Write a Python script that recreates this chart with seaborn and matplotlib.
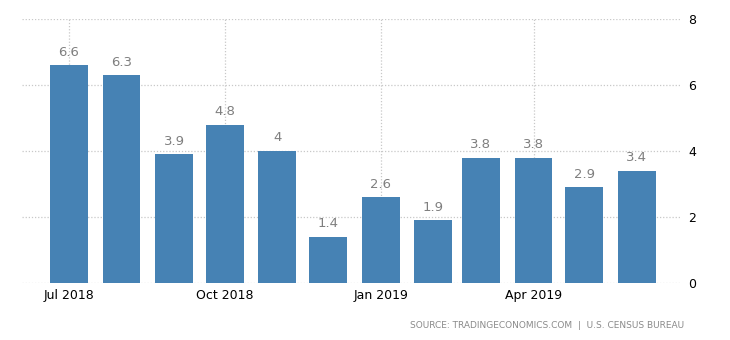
import matplotlib
matplotlib.use("Agg")
import matplotlib.pyplot as plt
import matplotlib.dates as mdates
import seaborn as sns
import pandas as pd
import numpy as np

months = ["2018-07-01", "2018-08-01", "2018-09-01", "2018-10-01", "2018-11-01",
          "2018-12-01", "2019-01-01", "2019-02-01", "2019-03-01", "2019-04-01",
          "2019-05-01", "2019-06-01"]
values = [6.6, 6.3, 3.9, 4.8, 4.0, 1.4, 2.6, 1.9, 3.8, 3.8, 2.9, 3.4]
tick_months = ["2018-07-01", "2018-10-01", "2019-01-01", "2019-04-01"]
tick_labels = ["Jul 2018", "Oct 2018", "Jan 2019", "Apr 2019"]
y_ticks = [0, 2, 4, 6, 8]
source_text = "SOURCE: TRADINGECONOMICS.COM  |  U.S. CENSUS BUREAU"

sns.set_style("white")
plt.rcParams["font.family"] = ["DejaVu Sans"]

day_num = mdates.date2num(pd.to_datetime(months))
df = pd.DataFrame({"day": day_num, "value": values})

fig = plt.figure(figsize=(7.3, 3.4), dpi=100)
ax = fig.add_axes([0.0301, 0.1676, 0.9014, 0.7764])

sns.barplot(data=df, x="day", y="value", native_scale=True, width=0.8,
            color="#4682b4", saturation=1, linewidth=0, edgecolor="none",
            ax=ax, zorder=3)

for d, v in zip(day_num, values):
    ax.text(d, v + 0.2, f"{v:g}", ha="center", va="bottom",
            fontsize=9.5, color="#7f7f7f", zorder=4)

ax.set_xlim(day_num[0] - 27.7, day_num[-1] + 25.4)
ax.set_ylim(0, 8)

ax.set_xticks(mdates.date2num(pd.to_datetime(tick_months)))
ax.set_xticklabels(tick_labels, fontsize=9, color="black")
ax.set_yticks(y_ticks)
ax.set_yticklabels([str(t) for t in y_ticks], fontsize=9, color="black")
ax.yaxis.tick_right()
ax.tick_params(axis="y", length=0, pad=6)
ax.tick_params(axis="x", length=3, color="#cccccc", pad=1.5)

ax.set_xlabel("")
ax.set_ylabel("")
for s in ax.spines.values():
    s.set_visible(False)

ax.grid(True, axis="both", linestyle=(0, (1, 1.5)), color="#c8c8c8", linewidth=0.9, zorder=0)
ax.set_axisbelow(True)

fig.text(684 / 730, 1 - 325 / 340, source_text, ha="right", va="center",
         fontsize=6.5, color="#8a8a8a")

fig.savefig("out.png", dpi=100)
